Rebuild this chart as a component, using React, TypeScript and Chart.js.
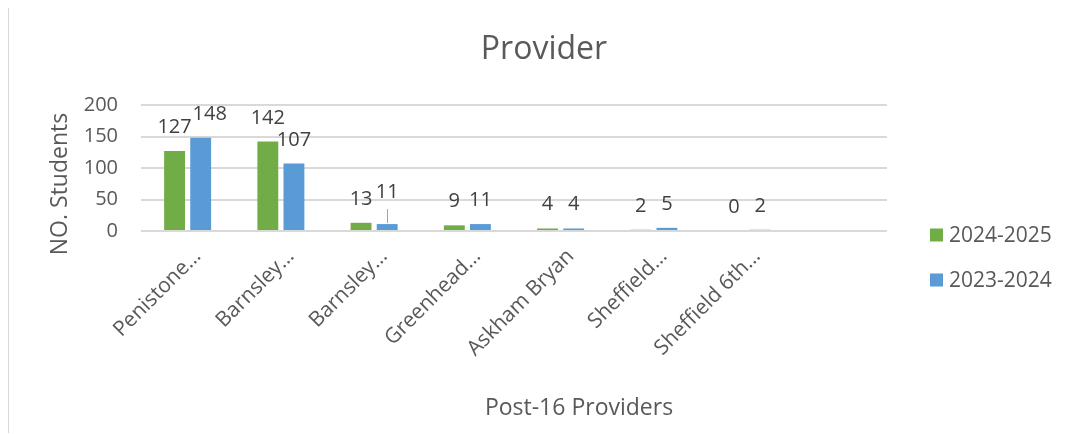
import React, { useEffect, useRef } from "react";
import { Chart, registerables } from "chart.js";

Chart.register(...registerables);

// ---- data ----
const categories = [
  "Penistone…",
  "Barnsley…",
  "Barnsley…",
  "Greenhead…",
  "Askham Bryan",
  "Sheffield…",
  "Sheffield 6th…",
  "",
];
const series2024to2025 = [127, 142, 13, 9, 4, 2, 0, null];
const series2023to2024 = [148, 107, 11, 11, 4, 5, 2, null];
const seriesNames = ["2024-2025", "2023-2024"];
const seriesColors = ["#70ad47", "#5b9bd5"];
const yTicks = [0, 50, 100, 150, 200];
const chartTitle = "Provider";
const yAxisTitle = "NO. Students";
const xAxisTitle = "Post-16 Providers";

// label adjustments (styling, like Excel's manually moved labels)
const labelNudges = [
  { dataset: 1, index: 0, dx: 9, lift: 0, leader: false },
  { dataset: 1, index: 2, dx: 0, lift: 8, leader: true },
];

const FONT = "'Open Sans', sans-serif";
const TEXT = "#595959";

const overlayPlugin = {
  id: "overlay",
  afterDatasetsDraw(chart: any) {
    const ctx = chart.ctx;
    const area = chart.chartArea;
    ctx.save();

    // data labels
    ctx.font = `20px ${FONT}`;
    ctx.fillStyle = "#404040";
    ctx.textAlign = "center";
    ctx.textBaseline = "alphabetic";
    chart.data.datasets.forEach((ds: any, di: number) => {
      const meta = chart.getDatasetMeta(di);
      meta.data.forEach((bar: any, i: number) => {
        const v = ds.data[i];
        if (v === null || v === undefined) return;
        const n = labelNudges.find((q) => q.dataset === di && q.index === i);
        const dx = n ? n.dx : 0;
        const lift = n ? n.lift : 0;
        const y = bar.y - 18 - lift;
        ctx.fillText(String(v), bar.x + dx, y);
        if (n && n.leader) {
          ctx.strokeStyle = "#a6a6a6";
          ctx.lineWidth = 1;
          ctx.beginPath();
          ctx.moveTo(Math.round(bar.x) + 0.5, y + 11);
          ctx.lineTo(Math.round(bar.x) + 0.5, bar.y - 1);
          ctx.stroke();
        }
      });
    });

    // legend
    ctx.font = `21px ${FONT}`;
    ctx.textAlign = "left";
    ctx.textBaseline = "middle";
    const lx = area.right + 43;
    chart.data.datasets.forEach((ds: any, di: number) => {
      const cy = area.bottom + 4 + di * 45;
      ctx.fillStyle = ds.backgroundColor;
      ctx.fillRect(lx, cy - 6.5, 13, 13);
      ctx.fillStyle = TEXT;
      ctx.fillText(ds.label, lx + 19, cy + 1);
    });

    // axis titles
    ctx.font = `23px ${FONT}`;
    ctx.fillStyle = TEXT;
    ctx.textAlign = "center";
    ctx.textBaseline = "middle";
    ctx.save();
    ctx.translate(area.left - 81, area.top + 79);
    ctx.rotate(-Math.PI / 2);
    ctx.fillText(yAxisTitle, 0, 0);
    ctx.restore();
    ctx.fillText(xAxisTitle, area.left + 438, area.bottom + 177);

    ctx.restore();
  },
};

export default function App() {
  const ref = useRef<HTMLCanvasElement | null>(null);

  useEffect(() => {
    document.documentElement.style.overflow = "hidden";
    const canvas = ref.current;
    if (!canvas) return;
    Chart.defaults.font.family = FONT;
    const chart = new Chart(canvas, {
      type: "bar",
      data: {
        labels: categories,
        datasets: [
          {
            label: seriesNames[0],
            data: series2024to2025,
            backgroundColor: seriesColors[0],
            categoryPercentage: 0.56,
            barPercentage: 0.8,
          },
          {
            label: seriesNames[1],
            data: series2023to2024,
            backgroundColor: seriesColors[1],
            categoryPercentage: 0.56,
            barPercentage: 0.8,
          },
        ],
      },
      options: {
        animation: false,
        responsive: false,
        devicePixelRatio: 1,
        layout: { padding: { left: 10, right: 0, top: 0, bottom: 0 } },
        plugins: {
          legend: { display: false },
          tooltip: { enabled: false },
          title: {
            display: true,
            text: chartTitle,
            color: TEXT,
            font: { family: FONT, size: 32, weight: "normal" },
            padding: { top: 23, bottom: 35.6 },
          },
        },
        scales: {
          x: {
            grid: { display: false },
            border: { display: false },
            ticks: {
              color: TEXT,
              font: { family: FONT, size: 21 },
              minRotation: 45,
              maxRotation: 45,
              autoSkip: false,
              padding: 5,
              labelOffset: 10,
            },
            afterFit: (s: any) => {
              s.height = 202;
            },
          },
          y: {
            min: 0,
            max: 200,
            afterBuildTicks: (s: any) => {
              s.ticks = yTicks.map((v) => ({ value: v }));
            },
            grid: { color: "#d9d9d9", lineWidth: 2, drawTicks: false },
            border: { display: false },
            ticks: {
              color: TEXT,
              font: { family: FONT, size: 20 },
              padding: 23,
            },
            afterFit: (s: any) => {
              s.width = 122;
            },
          },
          pad: {
            type: "linear",
            position: "right",
            display: true,
            grid: { display: false },
            border: { display: false },
            ticks: { display: false },
            afterFit: (s: any) => {
              s.width = 182;
            },
          },
        },
      } as any,
      plugins: [overlayPlugin],
    });
    return () => chart.destroy();
  }, []);

  return (
    <div
      style={{
        width: 1060,
        height: 425,
        borderLeft: "1px solid #d9d9d9",
        borderTop: "1px solid #d9d9d9",
        background: "#fff",
        marginTop: -1,
      }}
    >
      <canvas ref={ref} width={1060} height={425} style={{ display: "block" }} />
    </div>
  );
}
